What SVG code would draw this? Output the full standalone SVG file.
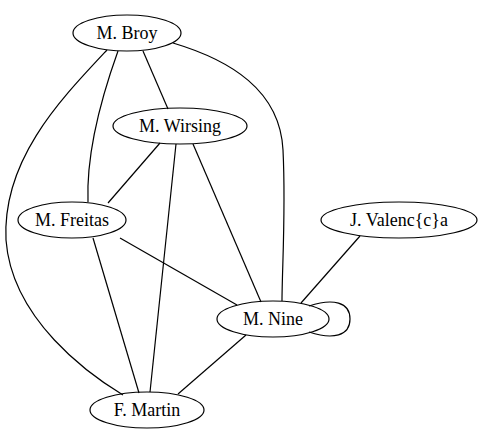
<svg xmlns="http://www.w3.org/2000/svg" width="482" height="443" viewBox="0 0 482 443">
<style>
.n ellipse{fill:none;stroke:#000;stroke-width:1.2}
.n text{font-family:"Liberation Serif","Times New Roman",serif;font-size:18px;text-anchor:middle;fill:#000}
#edges path{fill:none;stroke:#000;stroke-width:1.2}
</style>
<rect width="482" height="443" fill="#fff"/>
<g id="edges">
<path d="M143,51 L168,109"/>
<path d="M118,51 C104,90 86,150 88,202"/>
<path d="M107,50 C60,100 2,160 6,240 C12,320 90,375 123,395"/>
<path d="M173,43 C230,60 280,90 283,150 C286,210 282,270 282,301"/>
<path d="M160,143 L108,203"/>
<path d="M176,144 L150,392"/>
<path d="M193,144 L261,302"/>
<path d="M120,238 L237,305"/>
<path d="M93,238 L139,393"/>
<path d="M360,236 L301,303"/>
<path d="M246,335 L178,394"/>
<path d="M309,306 C333,298 350,302 350,319 C350,336 333,340 309,332"/>
</g>
<g id="broy" class="n"><ellipse cx="127" cy="33" rx="54" ry="18"/><text x="127" y="39">M. Broy</text></g>
<g id="wirsing" class="n"><ellipse cx="180" cy="126" rx="67" ry="18"/><text x="180" y="132">M. Wirsing</text></g>
<g id="freitas" class="n"><ellipse cx="72" cy="220" rx="54" ry="18"/><text x="72" y="226">M. Freitas</text></g>
<g id="valenca" class="n"><ellipse cx="399" cy="220" rx="78" ry="18"/><text x="399" y="226">J. Valenc{c}a</text></g>
<g id="nine" class="n"><ellipse cx="273" cy="319" rx="56" ry="18"/><text x="273" y="325">M. Nine</text></g>
<g id="martin" class="n"><ellipse cx="147" cy="410" rx="57" ry="18"/><text x="147" y="416">F. Martin</text></g>
</svg>
